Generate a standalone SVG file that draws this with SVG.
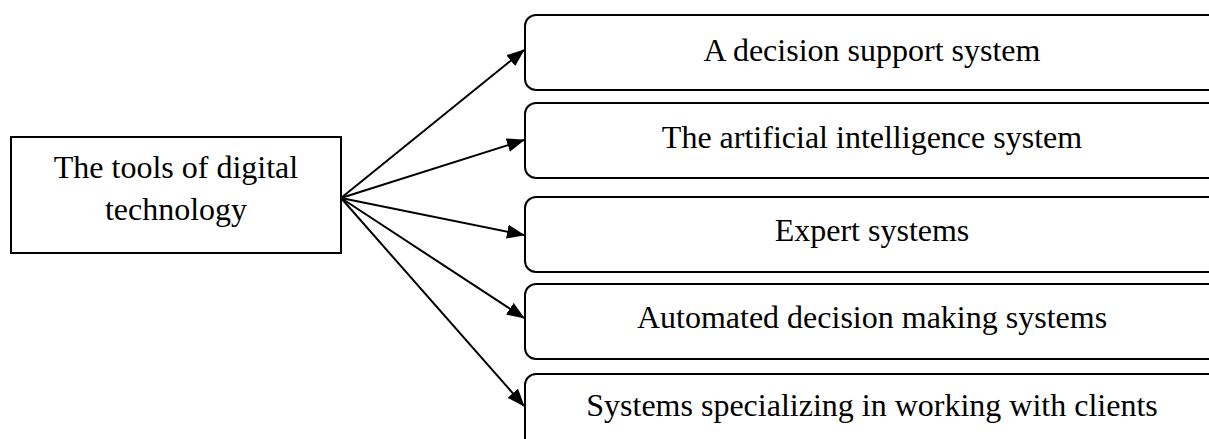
<svg xmlns="http://www.w3.org/2000/svg" width="1209" height="439" viewBox="0 0 1209 439">
  <style>
    .box { fill: #ffffff; stroke: #000000; stroke-width: 2; }
    .label { font-family: "Liberation Serif", "Times New Roman", serif; font-size: 32px; fill: #000000; text-anchor: middle; }
    .link { stroke: #000000; stroke-width: 2; fill: none; marker-end: url(#arrow); }
  </style>
  <defs>
    <marker id="arrow" markerWidth="18" markerHeight="14" refX="17" refY="7" orient="auto" markerUnits="userSpaceOnUse">
      <path d="M0,0 L18,7 L0,14 Z" fill="#000000"/>
    </marker>
  </defs>

  <rect width="1209" height="439" fill="#ffffff"/>

  <g id="connectors">
    <line class="link" x1="341" y1="198" x2="524" y2="50"/>
    <line class="link" x1="341" y1="198" x2="524" y2="140"/>
    <line class="link" x1="341" y1="198" x2="524" y2="235"/>
    <line class="link" x1="341" y1="198" x2="524" y2="318"/>
    <line class="link" x1="341" y1="198" x2="524" y2="406"/>
  </g>

  <g id="tools">
    <rect class="box" x="11" y="137" width="330" height="116"/>
    <text class="label" x="176" y="178">The tools of digital</text>
    <text class="label" x="176" y="220">technology</text>
  </g>

  <g id="decision-support">
    <rect class="box" x="525" y="15" width="710" height="75" rx="11"/>
    <text class="label" x="872" y="61">A decision support system</text>
  </g>

  <g id="artificial-intelligence">
    <rect class="box" x="525" y="103" width="710" height="75" rx="11"/>
    <text class="label" x="872" y="148">The artificial intelligence system</text>
  </g>

  <g id="expert-systems">
    <rect class="box" x="525" y="197" width="710" height="75" rx="11"/>
    <text class="label" x="872" y="241">Expert systems</text>
  </g>

  <g id="automated-decision">
    <rect class="box" x="525" y="284" width="710" height="75" rx="11"/>
    <text class="label" x="872" y="328">Automated decision making systems</text>
  </g>

  <g id="client-systems">
    <rect class="box" x="525" y="374" width="710" height="75" rx="11"/>
    <text class="label" x="872" y="416">Systems specializing in working with clients</text>
  </g>
</svg>
